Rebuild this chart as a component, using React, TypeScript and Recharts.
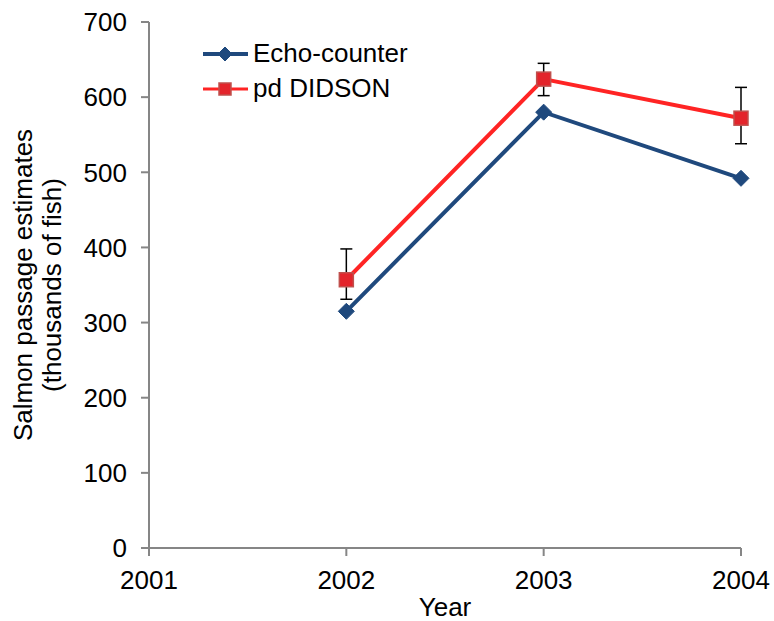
import {
  ComposedChart,
  Line,
  XAxis,
  YAxis,
  ErrorBar,
  Label,
} from "recharts";

const years = [2002, 2003, 2004];
const echoCounter = [315, 580, 492];
const pdDidson = [357, 624, 572];
// asymmetric error: [below, above]
const didsonErrLow = [26, 22, 34];
const didsonErrHigh = [41, 21, 41];
const xTicks = [2001, 2002, 2003, 2004];
const yTicks = [0, 100, 200, 300, 400, 500, 600, 700];

const FONT = "'Liberation Sans', Arial, sans-serif";
const FONT_SIZE = 26;
const AXIS_COLOR = "#868686";
const ECHO_COLOR = "#1F497D";
const DIDSON_LINE = "#FF2424";
const DIDSON_FILL = "#E3242B";
const DIDSON_EDGE = "#C0504D";

const data = years.map((year, i) => ({
  year,
  echo: echoCounter[i],
  didson: pdDidson[i],
  didsonErr: [didsonErrLow[i], didsonErrHigh[i]],
}));

function Diamond({ cx, cy, size = 8 }: { cx?: number; cy?: number; size?: number }) {
  if (cx == null || cy == null) return null;
  return (
    <path
      d={`M${cx},${cy - size} L${cx + size},${cy} L${cx},${cy + size} L${cx - size},${cy} Z`}
      fill={ECHO_COLOR}
      stroke={ECHO_COLOR}
      strokeWidth={1}
    />
  );
}

function Square({ cx, cy, size = 7 }: { cx?: number; cy?: number; size?: number }) {
  if (cx == null || cy == null) return null;
  return (
    <rect
      x={cx - size}
      y={cy - size}
      width={size * 2}
      height={size * 2}
      fill={DIDSON_FILL}
      stroke={DIDSON_EDGE}
      strokeWidth={1.5}
    />
  );
}

function LegendBox() {
  const rows = [
    { name: "Echo-counter", color: ECHO_COLOR, marker: "diamond" },
    { name: "pd DIDSON", color: DIDSON_LINE, marker: "square" },
  ];
  return (
    <div
      style={{
        position: "absolute",
        left: 203,
        top: 36,
        fontFamily: FONT,
        fontSize: FONT_SIZE,
        lineHeight: "35px",
      }}
    >
      {rows.map((r) => (
        <div key={r.name} style={{ display: "flex", alignItems: "center", height: 35 }}>
          <svg width={50} height={20} style={{ display: "block" }}>
            <line x1={0} y1={10} x2={45} y2={10} stroke={r.color} strokeWidth={r.marker === "diamond" ? 4 : 3} />
            {r.marker === "diamond" ? (
              <Diamond cx={22} cy={10} size={7} />
            ) : (
              <Square cx={22} cy={10} size={6} />
            )}
          </svg>
          <span style={{ color: "#000" }}>{r.name}</span>
        </div>
      ))}
    </div>
  );
}

function YLabel({ viewBox }: { viewBox?: { x: number; y: number; width: number; height: number } }) {
  if (!viewBox) return null;
  const cy = viewBox.y + viewBox.height / 2;
  return (
    <text
      transform={`translate(32,${cy}) rotate(-90)`}
      textAnchor="middle"
      fontFamily={FONT}
      fontSize={FONT_SIZE}
      fill="#000"
    >
      <tspan x={0} dy={0}>Salmon passage estimates</tspan>
      <tspan x={0} dy={29}>(thousands of fish)</tspan>
    </text>
  );
}

export default function App() {
  return (
    <div style={{ position: "absolute", left: 0, top: 0, width: 774, height: 621, background: "#fff" }}>
      <ComposedChart
        width={774}
        height={621}
        data={data}
        margin={{ top: 22, right: 33, bottom: 0, left: 0 }}
      >
        <XAxis
          dataKey="year"
          type="number"
          domain={[2001, 2004]}
          ticks={xTicks}
          interval={0}
          height={73}
          stroke={AXIS_COLOR}
          strokeWidth={2}
          tickSize={8}
          tickMargin={15}
          tick={{ fill: "#000", fontSize: FONT_SIZE, fontFamily: FONT }}
        >
          <Label
            value="Year"
            position="insideBottom"
            offset={5}
            style={{ fill: "#000", fontSize: FONT_SIZE, fontFamily: FONT }}
          />
        </XAxis>
        <YAxis
          type="number"
          domain={[0, 700]}
          ticks={yTicks}
          interval={0}
          width={149}
          stroke={AXIS_COLOR}
          strokeWidth={2}
          tickSize={8}
          tickMargin={14}
          tick={{ fill: "#000", fontSize: FONT_SIZE, fontFamily: FONT }}
        >
          <Label content={<YLabel />} />
        </YAxis>
        <Line
          dataKey="echo"
          name="Echo-counter"
          stroke={ECHO_COLOR}
          strokeWidth={4}
          dot={<Diamond size={8} />}
          activeDot={false}
          isAnimationActive={false}
        />
        <Line
          dataKey="didson"
          name="pd DIDSON"
          stroke={DIDSON_LINE}
          strokeWidth={4}
          dot={<Square size={7} />}
          activeDot={false}
          isAnimationActive={false}
        >
          <ErrorBar
            dataKey="didsonErr"
            direction="y"
            width={6}
            stroke="#000"
            strokeWidth={1.5}
            isAnimationActive={false}
          />
        </Line>
      </ComposedChart>
      <LegendBox />
    </div>
  );
}
